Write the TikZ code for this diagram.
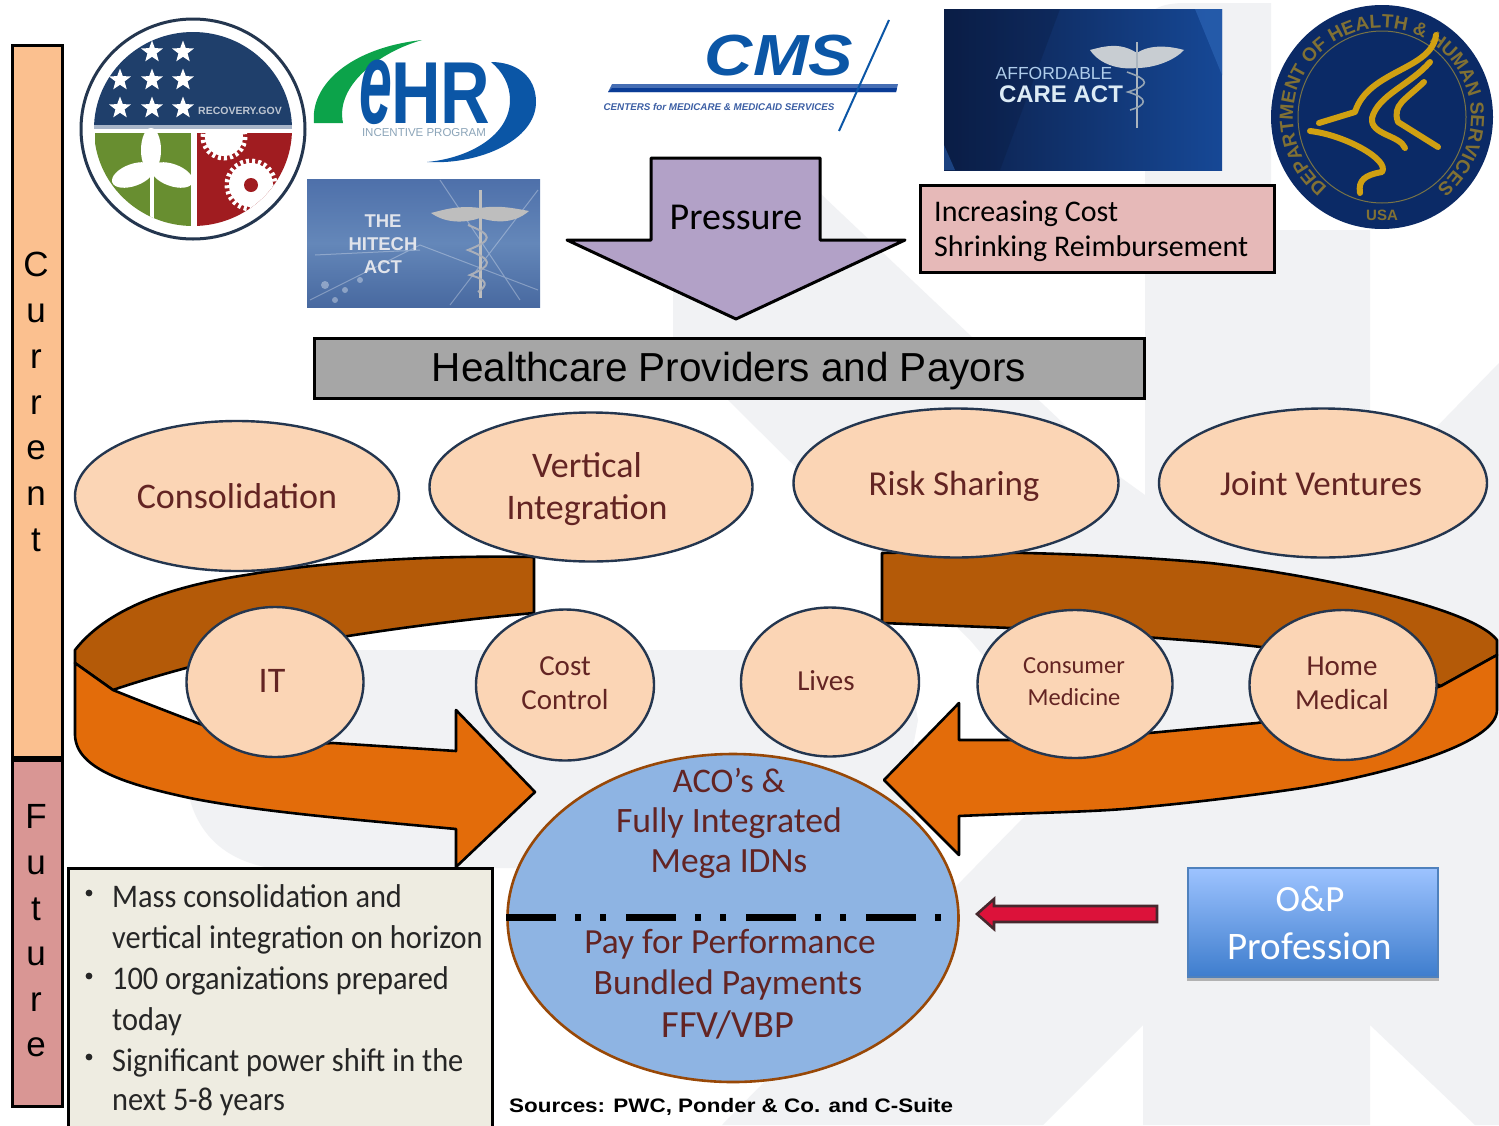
\documentclass[tikz,border=0pt]{standalone}
\usepackage{fontspec}
\usetikzlibrary{shapes.geometric,decorations.text}
\setmainfont{Carlito}
\newfontfamily\lib{Liberation Sans}
\newfontfamily\carN[FakeStretch=0.92]{Carlito}
\newfontfamily\libE[FakeStretch=0.5]{Liberation Sans}
\newfontfamily\libH[FakeStretch=0.78]{Liberation Sans}
\newfontfamily\libW[FakeStretch=1.15]{Liberation Sans}
\newcommand{\fsz}[2]{\fontsize{#1}{#2}\selectfont}
\definecolor{wm}{HTML}{F1F2F4}
\definecolor{peach}{HTML}{FBD5B5}
\definecolor{navyline}{HTML}{24364F}
\definecolor{maroon}{HTML}{632423}
\definecolor{darkband}{HTML}{B45A08}
\definecolor{orangeband}{HTML}{E36C0A}
\definecolor{logoblue}{HTML}{0B56A6}
\definecolor{seal}{HTML}{0B2A66}
\definecolor{gold}{HTML}{D0A012}
\definecolor{curfill}{HTML}{FBC08F}
\definecolor{futfill}{HTML}{D99694}
\definecolor{recnavy}{HTML}{1F3F6B}
\definecolor{recband}{HTML}{A8B5C8}
\definecolor{recgreen}{HTML}{688E30}
\definecolor{recred}{HTML}{A01C20}
\definecolor{recsub}{HTML}{BEC6D2}
\definecolor{ehrgreen}{HTML}{0CA34A}
\definecolor{ehrsubc}{HTML}{8CA5B9}
\definecolor{hitA}{HTML}{4869A0}
\definecolor{hitB}{HTML}{6487B9}
\definecolor{hitC}{HTML}{4E70AA}
\definecolor{hittxt}{HTML}{E1E4EB}
\definecolor{hitwing}{HTML}{BEBEBE}
\definecolor{hitsnake}{HTML}{AAAFB9}
\definecolor{cmsA}{HTML}{466EB4}
\definecolor{cmsB}{HTML}{0A3C96}
\definecolor{cmssubc}{HTML}{3C5FA5}
\definecolor{acaA}{HTML}{0C204B}
\definecolor{acaB}{HTML}{164896}
\definecolor{acaC}{HTML}{285FAF}
\definecolor{acaD}{HTML}{081637}
\definecolor{acaT1}{HTML}{AFCDEB}
\definecolor{acaT2}{HTML}{DCEBF5}
\definecolor{acaW}{HTML}{C8CDD2}
\definecolor{acaS}{HTML}{AAB4BE}
\definecolor{acaS2}{HTML}{96A5B4}
\definecolor{sealring}{HTML}{787346}
\definecolor{presfill}{HTML}{B2A1C7}
\definecolor{pinkfill}{HTML}{E6B9B8}
\definecolor{barfill}{HTML}{A6A6A6}
\definecolor{boxfill}{HTML}{EEECE1}
\definecolor{coreline}{HTML}{984807}
\definecolor{corefill}{HTML}{8EB4E3}
\definecolor{redline}{HTML}{46282D}
\definecolor{redfill}{HTML}{DC123A}
\definecolor{opshadow}{HTML}{B2B2B2}
\definecolor{optop}{HTML}{9DC3FF}
\definecolor{opbot}{HTML}{3E7DCD}
\definecolor{opline}{HTML}{4F81BD}
\tikzset{
  oval/.style={draw=navyline,line width=2.4pt,fill=peach},
  band/.style={draw=black,line width=2.6pt,line join=round},
  heavy/.style={draw=black,line width=3pt},
  labeltext/.style={text=maroon,align=center,inner sep=0pt},
  bullettext/.style={anchor=base west,inner sep=0pt,text=black!85,font=\carN\fsz{33}{33}},
  goldline/.style={draw=gold,line width=6pt,line cap=round,line join=round},
  starmark/.style={star,star points=5,star point ratio=2.4,fill=white,inner sep=0pt,minimum size=23pt}
}
\begin{document}
\begin{tikzpicture}[x=1pt,y=-1pt]
\clip (0,0) rectangle (1499,1125);
\fill[white] (0,0) rectangle (1499,1125);

% watermark
\fill[wm] (1145,20) .. controls (1150,8) and (1165,3) .. (1185,3) -- (1271,3) -- (1271,230) -- (1370,230) -- (1370,495) -- (1499,363)
  -- (1499,1125) -- (1475,1125) -- (1370,1025) -- (1370,1125) -- (1143,1125) -- (1143,1025) -- (1043,1125)
  -- (722,1125) -- (1075,765) -- (970,640) -- (730,402) -- (673,345) -- (673,170) -- (800,170) -- (824,197) -- (1120,477) -- (1145,495) -- cycle;
\fill[wm] (190,650) -- (905,650) -- (918,720) -- (905,790) -- (935,868) -- (270,868) .. controls (225,860) and (200,835) .. (190,800) -- cycle;

% side bars
\node[heavy,fill=curfill,minimum width=50pt,minimum height=712pt,inner sep=0pt] (curbar) at (37,401) {};
\node[heavy,fill=futfill,minimum width=50pt,minimum height=346pt,inner sep=0pt] (futbar) at (37,933) {};
\node[inner sep=0pt,align=center,font=\lib\fsz{35}{45.8}] (curtxt) at (36,402) {C\\u\\r\\r\\e\\n\\t};
\node[inner sep=0pt,align=center,font=\lib\fsz{35}{45.6}] (futtxt) at (36,931) {F\\u\\t\\u\\r\\e};

% Recovery logo
\draw[navyline,line width=3pt,fill=white] (193,129) ellipse (112 and 110);
\begin{scope}
  \clip (193,129) ellipse (99 and 97);
  \fill[white] (90,30) rectangle (300,230);
  \fill[recnavy] (90,30) rectangle (300,125);
  \fill[recband] (90,125) rectangle (300,129);
  \fill[recgreen] (95,133) rectangle (191,230);
  \fill[recred] (197,133) rectangle (295,230);
  \fill[white] (151,150) ellipse (10 and 22);
  \draw[white,line width=4pt] (152,170) -- (152,230);
  \fill[white,rotate around={20:(133,175)}] (133,175) ellipse (22 and 11);
  \fill[white,rotate around={-20:(172,175)}] (172,175) ellipse (22 and 11);
  \begin{scope}
    \clip (197,133) rectangle (295,230);
    \fill[white] (224,137) circle (19);
    \draw[white,line width=5pt,dash pattern=on 3pt off 3pt] (224,137) circle (21);
    \fill[white] (251,185) circle (22);
    \draw[white,line width=5pt,dash pattern=on 3pt off 3pt] (251,185) circle (24);
    \fill[recred] (251,185) circle (7);
  \end{scope}
\end{scope}
\foreach \sx/\sy in {152/52,183/52,120/80,152/80,183/80,120/108,152/108,183/108}{
  \node[starmark] at (\sx,\sy) {};
}
\node[inner sep=0pt,text=recsub,font=\lib\bfseries\fsz{10.5}{11}] (recgov) at (240,111) {RECOVERY.GOV};

% eHR logo
\fill[ehrgreen] (314,123) .. controls (310,85) and (350,48) .. (422,40) .. controls (380,52) and (335,85) .. (343,123) -- cycle;
\node[inner sep=0pt,text=logoblue,font=\libE\bfseries\itshape\fsz{118}{118}] (ehre) at (376,92) {e};
\node[inner sep=0pt,text=logoblue,font=\libH\bfseries\fsz{88}{88}] (ehrhr) at (441,93) {HR};
\fill[logoblue] (491,62) .. controls (515,62) and (536,75) .. (536,102) .. controls (536,140) and (480,165) .. (427,162) .. controls (470,158) and (510,135) .. (510,100) .. controls (510,85) and (503,72) .. (491,62) -- cycle;
\node[inner sep=0pt,text=ehrsubc,font=\lib\fsz{11.5}{12}] (ehrsub) at (424,133) {INCENTIVE PROGRAM};

% HITECH image
\shade[bottom color=hitA,top color=hitC,middle color=hitB] (307,179) rectangle (540,307);
\draw[white,opacity=.3,line width=1pt] (310,300) -- (420,245) -- (538,290) (440,180) -- (520,300) (538,190) -- (450,305) (315,255) -- (420,250);
\fill[white,opacity=.35] (325,285) circle (4) (345,290) circle (3) (335,300) circle (3) (360,280) circle (3);
\node[inner sep=0pt,align=center,text=hittxt,font=\lib\bfseries\fsz{18.5}{23}] (hitech) at (383,244) {THE\\HITECH\\ACT};
\fill[hitwing] (480,208) .. controls (458,205) and (443,210) .. (431,213) .. controls (448,225) and (468,222) .. (480,218) .. controls (493,222) and (513,225) .. (529,211) .. controls (513,208) and (498,205) .. (480,208) -- cycle;
\draw[hitwing,line width=3pt] (480,190) -- (480,298);
\draw[hitsnake,line width=2pt] (468,225) .. controls (493,235) and (493,240) .. (468,250) .. controls (493,260) and (493,265) .. (470,275) .. controls (488,280) and (488,285) .. (478,292);

% CMS logo
\node[inner sep=0pt,text=logoblue,font=\libW\bfseries\itshape\fsz{58}{58}] (cms) at (779,56) {CMS};
\fill[cmsA] (612,84) -- (898,84) -- (896,92) -- (608,92) -- cycle;
\fill[cmsB] (612,88) -- (897,88) -- (896,92) -- (608,92) -- cycle;
\draw[logoblue,line width=2pt] (889,20) -- (839,131);
\node[inner sep=0pt,text=cmssubc,font=\lib\bfseries\itshape\fsz{9.8}{10}] (cmssub) at (719,107) {CENTERS for MEDICARE \& MEDICAID SERVICES};

% ACA image
\shade[left color=acaA,right color=acaB] (944,9) rectangle (1222,170);
\fill[acaC,opacity=.8] (1195,9) -- (1222,9) -- (1222,75) -- cycle;
\fill[acaC,opacity=.8] (944,145) -- (955,170) -- (944,170) -- cycle;
\fill[acaD,opacity=.25] (944,9) -- (1060,9) -- (1000,170) -- (944,170) -- cycle;
\node[inner sep=0pt,text=acaT1,font=\lib\fsz{17.5}{18}] (afford) at (1054,73) {AFFORDABLE};
\node[inner sep=0pt,text=acaT2,font=\lib\bfseries\fsz{24}{24}] (careact) at (1061,94) {CARE ACT};
\fill[acaW] (1137,53) .. controls (1120,42) and (1105,46) .. (1090,50) .. controls (1100,65) and (1120,70) .. (1137,68) .. controls (1155,68) and (1175,60) .. (1184,50) .. controls (1170,46) and (1150,44) .. (1137,53) -- cycle;
\draw[acaS,line width=2.5pt] (1137,42) -- (1137,128);
\draw[acaS2,line width=1.6pt] (1127,72) .. controls (1150,80) and (1150,85) .. (1128,92) .. controls (1148,98) and (1148,105) .. (1130,110);

% HHS seal
\fill[seal] (1382,117) ellipse (111 and 112);
\draw[sealring,line width=1pt] (1382,117) ellipse (84 and 86);
\path[decorate,decoration={text along path,text align=center,text={|\lib\bfseries\fsz{19}{19}\color{gold!60!seal}|DEPARTMENT OF HEALTH {\&} HUMAN SERVICES}}]
  plot[domain=110:430,samples=90] ({1382+89*cos(\x)},{117+89*sin(\x)});
\node[inner sep=0pt,text=gold!60!seal,font=\lib\bfseries\fsz{15}{15}] (usa) at (1382,215) {USA};
\draw[goldline] (1436,35) .. controls (1432,70) and (1368,70) .. (1355,112) -- (1319,123);
\draw[goldline] (1430,62) .. controls (1410,85) and (1378,95) .. (1372,118) .. controls (1370,135) and (1400,135) .. (1405,148);
\draw[goldline] (1424,82) .. controls (1405,100) and (1392,105) .. (1398,122) -- (1438,147);
\draw[goldline] (1310,131) .. controls (1345,135) and (1390,160) .. (1382,172) .. controls (1365,175) and (1358,180) .. (1360,193);

% Pressure arrow
\draw[heavy,fill=presfill,line join=round] (651,158) -- (820,158) -- (820,240) -- (905,240) -- (736,319) -- (567,240) -- (651,240) -- cycle;
\node[inner sep=0pt,font=\fsz{38}{38}] (press) at (736,217) {Pressure};

% Pink box
\node[heavy,fill=pinkfill,minimum width=354pt,minimum height=87pt,inner sep=0pt] (pink) at (1097,229) {};
\node[inner sep=0pt,anchor=west,align=left,font=\fsz{30}{35}] (pinktxt) at (934,231) {Increasing Cost\\Shrinking Reimbursement};

% Grey bar
\node[heavy,fill=barfill,minimum width=830pt,minimum height=60pt,inner sep=0pt] (greybar) at (729,368) {};
\node[inner sep=0pt,font=\lib\fsz{40.5}{41}] (greytxt) at (729,371) {Healthcare Providers and Payors};

% curved arrows
\path[band,fill=darkband] (534,557) .. controls (430,555) and (320,562) .. (246,575) .. controls (180,585) and (110,605) .. (75,650)
  -- (75,663) -- (113,690) .. controls (130,684) and (160,675) .. (186,668) .. controls (250,650) and (400,625) .. (534,613) -- cycle;
\path[band,fill=orangeband] (75,663) -- (113,690) .. controls (150,705) and (190,720) .. (200,724) .. controls (250,742) and (300,745) .. (333,743) -- (456,751) -- (456,710) -- (535,792) -- (456,867) -- (456,829)
  .. controls (360,820) and (260,812) .. (190,798) .. controls (130,785) and (76,770) .. (75,735) -- cycle;
\path[band,fill=darkband] (882,553) .. controls (1000,550) and (1120,555) .. (1210,563) .. controls (1300,573) and (1470,605) .. (1497,640)
  -- (1497,655) -- (1441,686) -- (1400,670) .. controls (1350,655) and (1300,650) .. (1261,647) .. controls (1220,642) and (1180,640) .. (1145,637) .. controls (1100,630) and (1050,628) .. (1011,628) -- (882,623) -- cycle;
\path[band,fill=orangeband] (1497,655) -- (1441,686) -- (1400,700) -- (1257,723) -- (1149,733) -- (1011,740) -- (959,740) -- (959,703) -- (884,780) -- (959,855) -- (959,816)
  .. controls (1050,812) and (1100,812) .. (1145,807) .. controls (1220,800) and (1290,790) .. (1308,787) .. controls (1380,775) and (1497,745) .. (1497,710) -- cycle;

% top ovals
\node[oval,ellipse,minimum width=324pt,minimum height=150pt,inner sep=0pt] (cons) at (237,496) {};
\node[oval,ellipse,minimum width=323pt,minimum height=149pt,inner sep=0pt] (vert) at (591,487) {};
\node[oval,ellipse,minimum width=325pt,minimum height=149pt,inner sep=0pt] (risk) at (956,483) {};
\node[oval,ellipse,minimum width=328pt,minimum height=149pt,inner sep=0pt] (joint) at (1323,483) {};
\node[labeltext,font=\fsz{36}{42}] (conslab) at (237,496) {Consolidation};
\node[labeltext,font=\fsz{36}{42}] (vertlab) at (587,489) {Vertical\\Integration};
\node[labeltext,font=\fsz{35}{42}] (risklab) at (954,486) {Risk Sharing};
\node[labeltext,font=\fsz{35}{42}] (jointlab) at (1321,484) {Joint Ventures};

% lower circles
\node[oval,ellipse,minimum width=177pt,minimum height=150pt,inner sep=0pt] (it) at (275,682) {};
\node[oval,ellipse,minimum width=178pt,minimum height=151pt,inner sep=0pt] (cost) at (565,685) {};
\node[oval,ellipse,minimum width=178pt,minimum height=149pt,inner sep=0pt] (lives) at (830,682) {};
\node[oval,ellipse,minimum width=195pt,minimum height=148pt,inner sep=0pt] (cmed) at (1075,684) {};
\node[oval,ellipse,minimum width=187pt,minimum height=150pt,inner sep=0pt] (home) at (1343,685) {};
\node[labeltext,font=\fsz{36}{36}] (itlab) at (272,681) {IT};
\node[labeltext,font=\fsz{29}{34}] (costlab) at (565,683) {Cost\\Control};
\node[labeltext,font=\fsz{29}{34}] (liveslab) at (826,681) {Lives};
\node[labeltext,font=\fsz{24.5}{32}] (cmedlab) at (1074,682) {Consumer\\Medicine};
\node[labeltext,font=\fsz{29}{34}] (homelab) at (1342,683) {Home\\Medical};

% bullet box
\draw[heavy,fill=boxfill] (68,868) rectangle (492,1135);
\foreach \by in {893,976,1057}{ \fill[black!85] (89,\by) circle (3.4); }
\node[bullettext] (b1) at (112,907) {Mass consolidation and};
\node[bullettext] (b2) at (112,948) {vertical integration on horizon};
\node[bullettext] (b3) at (112,989) {100 organizations prepared};
\node[bullettext] (b4) at (112,1030) {today};
\node[bullettext] (b5) at (112,1071) {Significant power shift in the};
\node[bullettext] (b6) at (112,1110) {next 5-8 years};

% big ellipse
\node[draw=coreline,line width=2.6pt,fill=corefill,ellipse,minimum width=451pt,minimum height=328pt,inner sep=0pt] (core) at (733,918) {};
\coordinate (divl) at (506,917);
\coordinate (divr) at (945,917);
\draw[line width=7pt,dash pattern=on 50pt off 19pt on 6pt off 19pt on 6pt off 20pt] (divl) -- (divr);
\node[labeltext,font=\fsz{34.5}{36}] (ct1) at (729,780) {ACO's \&};
\node[labeltext,font=\fsz{35.7}{36}] (ct2) at (729,823) {Fully Integrated};
\node[labeltext,font=\fsz{35.5}{36}] (ct3) at (729,864) {Mega IDNs};
\node[labeltext,font=\fsz{35.3}{36}] (cb1) at (730,944) {Pay for Performance};
\node[labeltext,font=\fsz{35.6}{36}] (cb2) at (728,985) {Bundled Payments};
\node[labeltext,font=\fsz{38.5}{40}] (cb3) at (728,1025) {FFV/VBP};

% red arrow
\draw[line width=2.6pt,draw=redline,fill=redfill,line join=miter]
  (1157,906) -- (994,906) -- (994,899) -- (977,914) -- (994,929) -- (994,922) -- (1157,922) -- cycle;

% O&P box
\fill[opshadow] (1187,975) rectangle (1439,981);
\shade[top color=optop,bottom color=opbot,draw=opline,line width=2.5pt] (1188,868) rectangle (1438,977);
\node[inner sep=0pt,text=white,font=\fsz{37}{40}] (onp) at (1310,899) {O\&P};
\node[inner sep=0pt,text=white,font=\fsz{39}{40}] (prof) at (1310,946) {Profession};

% sources
\node[inner sep=0pt,anchor=base west,font=\libW\bfseries\fsz{19.5}{20}] (src) at (509,1112) {Sources: PWC, Ponder \& Co. and C-Suite};
\end{tikzpicture}
\end{document}
